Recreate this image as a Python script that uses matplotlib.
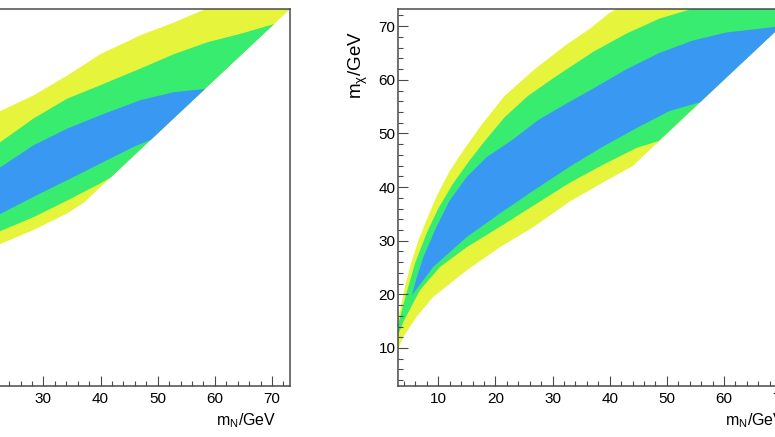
import matplotlib
matplotlib.use("Agg")
import matplotlib.pyplot as plt
from matplotlib.ticker import MultipleLocator

plt.rcParams['font.family'] = ['Liberation Sans', 'DejaVu Sans']

# ---------------- data ----------------
x_range = [3.0, 73.2]
y_range = [3.0, 73.2]
x_ticks = [10, 20, 30, 40, 50, 60, 70]
y_ticks = [10, 20, 30, 40, 50, 60, 70]

# Left panel (only its right part is visible)
L_yel_up_x = [18, 22.5, 28.3, 34.2, 40, 47, 52.9, 57.5, 65, 80]
L_yel_up_y = [51.5, 54.2, 57.1, 60.8, 64.8, 68.3, 70.7, 72.8, 76, 84]
L_yel_lo_x = [18, 22.5, 28.3, 34.2, 37.1, 80]
L_yel_lo_y = [27.5, 29.4, 32.0, 35.1, 37.1, 80]

L_grn_up_x = [18, 22.5, 28.3, 34.2, 40, 47, 52.9, 58.7, 64.6, 70.4]
L_grn_up_y = [45.5, 48.4, 52.8, 56.5, 59.0, 62.1, 64.8, 67.0, 68.6, 70.4]
L_grn_lo_x = [18, 22.5, 28.3, 34.2, 40, 41.8, 70.4]
L_grn_lo_y = [30.0, 31.8, 34.4, 37.5, 40.7, 41.8, 70.4]

L_blu_up_x = [18, 22.5, 28.3, 34.2, 40, 47, 52.9, 58.3]
L_blu_up_y = [40.8, 43.7, 47.8, 50.9, 53.4, 56.2, 57.7, 58.3]
L_blu_lo_x = [18, 22.5, 28.3, 34.2, 40, 45.8, 48.8, 58.3]
L_blu_lo_y = [32.8, 35.0, 38.2, 41.3, 44.4, 47.5, 48.8, 58.3]

# Right panel (only its left part is visible)
R_yel_up_x = [3.0, 3.5, 4.3, 5.3, 6.5, 8.0, 9.8, 12.0, 14.5, 17.5, 21.6, 26.9, 32.1, 36.5, 40, 46, 80]
R_yel_up_y = [15.5, 18.0, 22.0, 26.0, 30.0, 34.0, 38.5, 43.0, 47.0, 51.5, 57.0, 62.0, 66.3, 69.5, 72.5, 76, 90]
R_yel_lo_x = [3.0, 3.9, 6.2, 9.1, 15.0, 20.8, 26.6, 33.0, 38.9, 44.0, 80]
R_yel_lo_y = [10.0, 12.1, 15.8, 19.5, 24.5, 28.8, 32.5, 37.3, 40.9, 43.9, 80]

R_grn_up_x = [3.0, 3.5, 4.5, 6.0, 8.0, 10.0, 12.5, 15.5, 18.3, 21.6, 25.7, 30.4, 37.1, 42.9, 48.7, 53.4, 60, 80]
R_grn_up_y = [14.5, 16.5, 20.5, 26.0, 31.5, 36.0, 40.5, 45.0, 48.8, 53.0, 57.0, 60.5, 65.2, 68.6, 71.4, 72.9, 75, 85]
R_grn_lo_x = [3.0, 3.9, 6.8, 10.3, 15.0, 20.8, 26.6, 33.0, 38.9, 44.7, 48.6, 80]
R_grn_lo_y = [12.5, 14.9, 20.8, 25.1, 28.8, 32.6, 36.5, 40.8, 44.2, 47.3, 48.6, 80]

R_blu_up_x = [5.35, 6.2, 7.4, 9.7, 12.0, 15.0, 18.5, 23.1, 27.5, 32.0, 37.0, 43.0, 48.7, 54.5, 60.3, 66.0, 70.0]
R_blu_up_y = [19.8, 23.0, 27.0, 32.6, 37.5, 41.9, 45.6, 48.9, 52.5, 55.3, 58.3, 62.0, 65.0, 67.3, 68.8, 69.5, 70.0]
R_blu_lo_x = [5.35, 9.1, 15.0, 20.8, 26.6, 33.0, 38.9, 44.7, 50.5, 55.8, 70.0]
R_blu_lo_y = [19.8, 25.1, 30.7, 35.1, 39.3, 43.8, 47.6, 51.0, 54.2, 55.8, 70.0]

x_title = "m$_\\mathregular{N}$/GeV"
y_title = "m$_\\mathregular{\u03c7}$/GeV"

# ---------------- style ----------------
c_yel = "#e6f53c"
c_grn = "#38ec70"
c_blu = "#3898f2"
frame_c = "#4a4a4a"

W, H = 775, 437
fig = plt.figure(figsize=(W / 100, H / 100), dpi=100)

px_per_unit = 5.714
ax_w_px = (x_range[1] - x_range[0]) * px_per_unit
bottom_px = 385.5
top_px = 9.0
axes_specs = [
    (-110.9, [(L_yel_up_x, L_yel_up_y, L_yel_lo_x, L_yel_lo_y, c_yel),
              (L_grn_up_x, L_grn_up_y, L_grn_lo_x, L_grn_lo_y, c_grn),
              (L_blu_up_x, L_blu_up_y, L_blu_lo_x, L_blu_lo_y, c_blu)]),
    (398.3, [(R_yel_up_x, R_yel_up_y, R_yel_lo_x, R_yel_lo_y, c_yel),
             (R_grn_up_x, R_grn_up_y, R_grn_lo_x, R_grn_lo_y, c_grn),
             (R_blu_up_x, R_blu_up_y, R_blu_lo_x, R_blu_lo_y, c_blu)]),
]

for left_px, bands in axes_specs:
    ax = fig.add_axes([left_px / W, 1 - bottom_px / H, ax_w_px / W, (bottom_px - top_px) / H])
    for ux, uy, lx, ly, col in bands:
        px = list(ux) + list(lx)[::-1]
        py = list(uy) + list(ly)[::-1]
        ax.fill(px, py, color=col, lw=0, zorder=1)
    ax.set_xlim(*x_range)
    ax.set_ylim(*y_range)
    ax.set_xticks(x_ticks)
    ax.set_yticks(y_ticks)
    ax.xaxis.set_minor_locator(MultipleLocator(2))
    ax.yaxis.set_minor_locator(MultipleLocator(2))
    ax.tick_params(which='both', direction='in', top=False, right=False,
                   color=frame_c, width=0.8, labelsize=11)
    ax.tick_params(which='major', length=7.2)
    ax.tick_params(which='minor', length=3.6)
    ax.tick_params(axis='x', pad=4.5)
    ax.tick_params(axis='y', pad=2)
    for s in ax.spines.values():
        s.set_color(frame_c)
        s.set_linewidth(1.1)
        s.set_zorder(5)
    ax.text(0.965, -0.105, x_title, transform=ax.transAxes, ha='right',
            va='baseline', fontsize=11.5)
    ax.text(-0.100, 0.94, y_title, transform=ax.transAxes, ha='center',
            va='top', rotation=90, fontsize=13.5)

fig.savefig("out.png", dpi=100)
